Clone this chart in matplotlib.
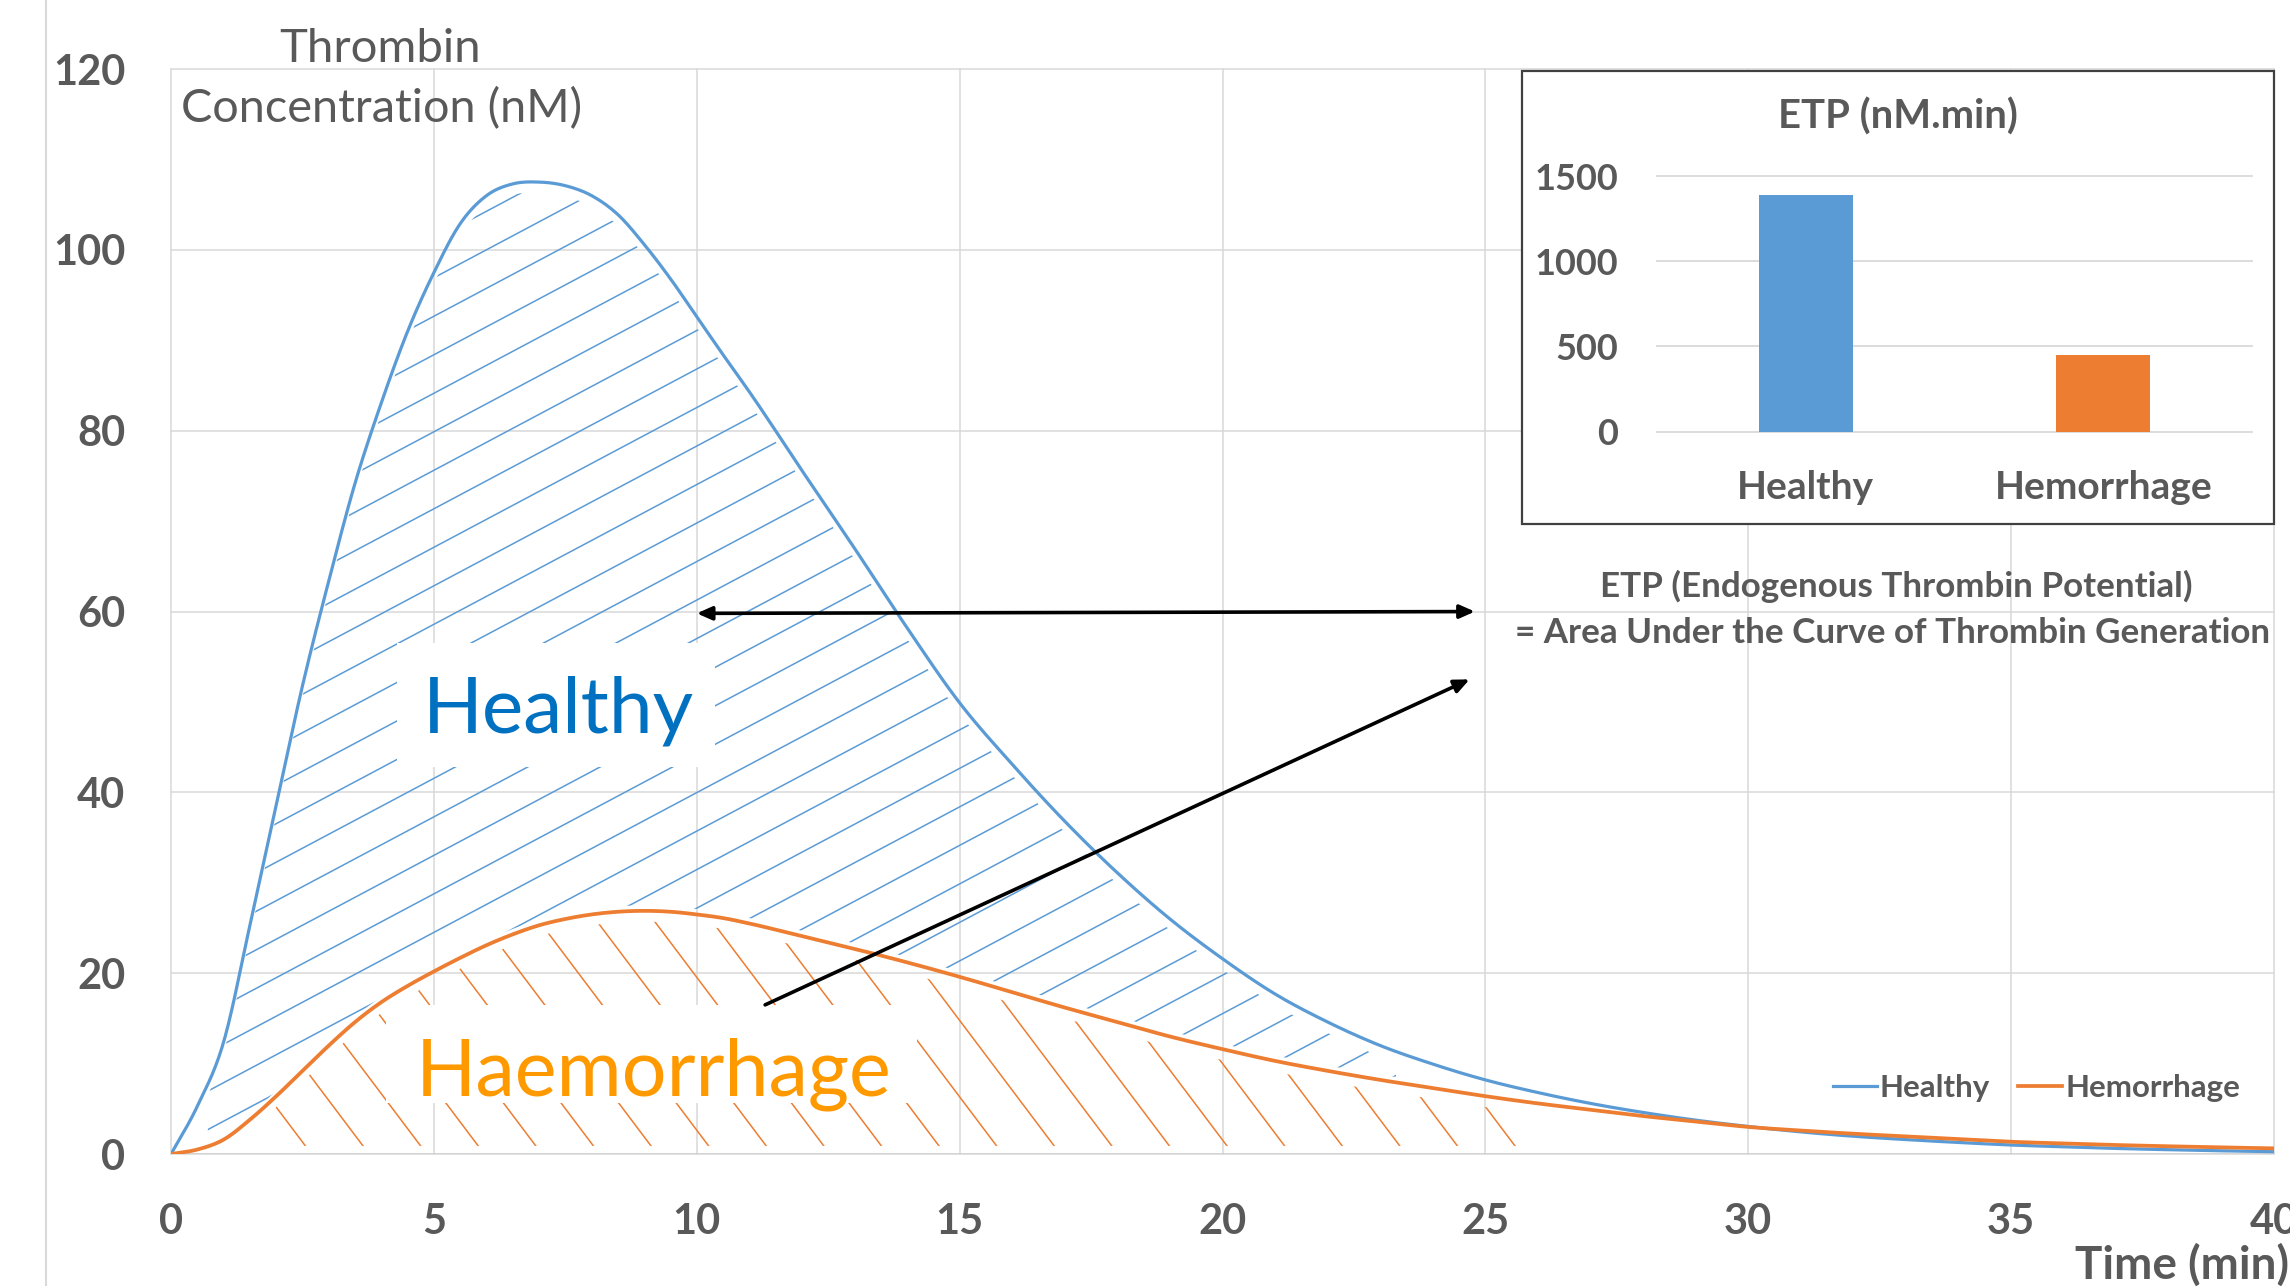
import numpy as np
import matplotlib
matplotlib.use("Agg")
import matplotlib.pyplot as plt
from matplotlib.collections import LineCollection
from matplotlib.patches import Polygon, Rectangle
from matplotlib.lines import Line2D

plt.rcParams['font.family'] = ['Lato', 'DejaVu Sans']

# thrombin generation curves (time in min, nM)
time_min = [0, 0.5, 1, 1.5, 2, 2.5, 3, 3.5, 4, 4.5, 5, 5.5, 6, 6.5, 7, 7.5,
            8, 8.5, 9, 9.5, 10, 10.5, 11, 12, 13, 14, 15, 16, 17, 18, 19, 20,
            21, 22, 23, 24, 25, 26, 27, 28, 29, 30, 31, 32, 33, 34, 35, 36,
            37, 38, 39, 40]
healthy = [0, 5.3, 12.4, 25.3, 38.6, 51.8, 63.4, 74.2, 83.1, 91.0, 97.5,
           102.9, 106.0, 107.3, 107.5, 107.1, 106.0, 103.9, 100.6, 96.8, 92.6,
           88.4, 84.3, 75.6, 67.0, 58.2, 49.9, 43.1, 36.8, 31.1, 26.0, 21.6,
           17.7, 14.6, 12.0, 9.95, 8.2, 6.8, 5.6, 4.6, 3.75, 3.05, 2.45, 1.97,
           1.6, 1.28, 1.0, 0.8, 0.62, 0.48, 0.36, 0.26]
hemorrhage = [0, 0.5, 1.6, 3.8, 6.4, 9.2, 12.0, 14.6, 16.8, 18.6, 20.2,
              21.7, 23.1, 24.3, 25.3, 26.0, 26.5, 26.8, 26.9, 26.8, 26.5,
              26.1, 25.5, 24.1, 22.7, 21.2, 19.6, 17.9, 16.2, 14.6, 13.0, 11.6,
              10.3, 9.2, 8.2, 7.3, 6.4, 5.6, 4.9, 4.2, 3.6, 3.0, 2.6, 2.25,
              1.95, 1.65, 1.36, 1.17, 1.0, 0.86, 0.74, 0.63]

x_ticks = [0, 5, 10, 15, 20, 25, 30, 35, 40]
y_ticks = [0, 20, 40, 60, 80, 100, 120]

# inset bar chart
etp_labels = ['Healthy', 'Hemorrhage']
etp_values = [1390, 447]
etp_ticks = [0, 500, 1000, 1500]

# arrows (data coords of the main chart)
arrow_range = ((10.0, 59.8), (24.8, 60.0))
arrow_area = ((11.3, 16.5), (24.7, 52.5))

GREY = '#595959'
BLUE = '#5B9BD5'
ORANGE = '#ED7D31'


def smooth(x, y, n=16):
    # cubic hermite through the points, like the smoothed line in the source
    x = np.asarray(x, float)
    y = np.asarray(y, float)
    hx = np.diff(x)
    d = np.diff(y) / hx
    m = np.empty_like(y)
    m[1:-1] = (d[:-1] * hx[1:] + d[1:] * hx[:-1]) / (hx[1:] + hx[:-1])
    m[0], m[-1] = d[0], d[-1]
    s = np.linspace(0, 1, n, endpoint=False)
    h00 = 2 * s**3 - 3 * s**2 + 1
    h10 = s**3 - 2 * s**2 + s
    h01 = -2 * s**3 + 3 * s**2
    h11 = s**3 - s**2
    xs, ys = [], []
    for i in range(len(x) - 1):
        xs.append(x[i] + s * hx[i])
        ys.append(h00 * y[i] + h10 * hx[i] * m[i] + h01 * y[i + 1]
                  + h11 * hx[i] * m[i + 1])
    xs.append([x[-1]])
    ys.append([y[-1]])
    return np.concatenate(xs), np.concatenate(ys)


W, H = 2290, 1286
fig = plt.figure(figsize=(W / 100, H / 100), dpi=100)
ax_pos = [0.0747, 0.1026, 0.9183, 0.8437]
ax = fig.add_axes(ax_pos)
ax.set_xlim(0, 40)
ax.set_ylim(0, 120)
ax.set_xticks(x_ticks)
ax.set_yticks(y_ticks)
ax.grid(True, color='#d9d9d9', lw=1.1)
ax.set_axisbelow(True)
for gl in ax.get_xgridlines() + ax.get_ygridlines():
    gl.set_clip_on(False)
for s in ax.spines.values():
    s.set_visible(False)
ax.axhline(0, color='#d0d0d0', lw=1.8, zorder=1)
ax.tick_params(length=0, labelsize=30, labelcolor=GREY)
ax.tick_params(axis='x', pad=35)
ax.tick_params(axis='y', pad=33)
for lab in ax.get_xticklabels() + ax.get_yticklabels():
    lab.set_fontweight('bold')

th, yh = smooth(time_min, healthy)
tm, ym = smooth(time_min, hemorrhage)

# pixels per data unit, used to give the hatching its on-screen angle
sx = W * ax_pos[2] / 40
sy = H * ax_pos[3] / 120


def hatch(poly_x, poly_top, poly_bot, angle, perp_px, color, lw):
    poly = Polygon(np.column_stack([np.r_[poly_x, poly_x[::-1]],
                                    np.r_[poly_top, poly_bot[::-1]]]),
                   closed=True, transform=ax.transData)
    a = np.radians(angle)
    slope = np.tan(a) * sx / sy
    step = perp_px / abs(np.cos(a)) / sy
    segs = [[(-1, c - slope), (41, c + slope * 41)]
            for c in np.arange(-140, 450, step)]
    lc = LineCollection(segs, colors=color, linewidths=lw, zorder=2)
    ax.add_collection(lc, autolim=False)
    lc.set_clip_path(poly)


xb = np.linspace(0.7, 23.3, 400)
hatch(xb, np.interp(xb, th, yh) - 1.2, np.interp(xb, tm, ym) + 0.6,
      28, 34, BLUE, 1.1)
xo = np.linspace(1.8, 26.0, 400)
hatch(xo, np.interp(xo, tm, ym) - 1.2, np.full_like(xo, 0.9),
      -53, 46, ORANGE, 1.1)

ax.plot(th, yh, color=BLUE, lw=2.3, zorder=5, label='Healthy')
ax.plot(tm, ym, color=ORANGE, lw=2.7, zorder=5, label='Hemorrhage')

# white boxes behind the big labels
ax.add_patch(Rectangle((4.29, 42.8), 6.06, 13.7, facecolor='white',
                       edgecolor='none', zorder=4))
ax.add_patch(Rectangle((4.09, 5.6), 10.1, 10.9, facecolor='white',
                       edgecolor='none', zorder=4))
ax.text(7.36, 46.6, 'Healthy', color='#0070C0', fontsize=56.5,
        ha='center', va='baseline', zorder=7)
ax.text(9.17, 6.5, 'Haemorrhage', color='#FF9900', fontsize=57,
        ha='center', va='baseline', zorder=7)

ax.annotate('', xy=arrow_range[0], xytext=arrow_range[1], zorder=6,
            arrowprops=dict(arrowstyle='<|-|>,head_length=0.9,head_width=0.4',
                            lw=2.6, color='black', shrinkA=0, shrinkB=0))
ax.annotate('', xy=arrow_area[1], xytext=arrow_area[0], zorder=6,
            arrowprops=dict(arrowstyle='-|>,head_length=0.9,head_width=0.4',
                            lw=2.6, color='black', shrinkA=0, shrinkB=0))

ax.legend(loc='center left', bbox_to_anchor=(1833 / W, 1 - 1088 / H),
          bbox_transform=fig.transFigure, ncol=2, frameon=False,
          prop=dict(weight='bold', size=22.5), labelcolor=GREY,
          handlelength=1.4, handletextpad=0.1, columnspacing=0.9,
          borderpad=0, borderaxespad=0)

# axis titles
fig.text(380 / W, 1 - 62 / H, 'Thrombin', fontsize=34, color=GREY,
         ha='center', va='baseline')
fig.text(181 / W, 1 - 122 / H, 'Concentration (nM)', fontsize=33.7,
         color=GREY, ha='left', va='baseline')
fig.text(2075 / W, 1 - 1265 / H, 'Time (min)', fontsize=33, color=GREY,
         fontweight='bold', ha='left', va='center')

fig.add_artist(Line2D([46 / W, 46 / W], [0, 1], transform=fig.transFigure,
                      color='#d9d9d9', lw=1.5))

# ETP explanation
fig.text(1896 / W, 1 - 597 / H, 'ETP (Endogenous Thrombin Potential)',
         fontsize=25.2, fontweight='bold', color=GREY, ha='center',
         va='baseline')
fig.text(1893 / W, 1 - 643 / H, '= Area Under the Curve of Thrombin Generation',
         fontsize=25.2, fontweight='bold', color=GREY, ha='center',
         va='baseline')

# inset chart
box = Rectangle((1522 / W, 1 - 524 / H), 752 / W, 453 / H,
                transform=fig.transFigure, facecolor='white',
                edgecolor='#404040', lw=1.6, zorder=2)
fig.add_artist(box)
ax2 = fig.add_axes([1657 / W, 1 - 431.5 / H, 595 / W, 255.5 / H])
ax2.set_zorder(3)
ax2.patch.set_visible(False)
ax2.bar(range(len(etp_values)), etp_values, width=0.316,
        color=[BLUE, ORANGE], zorder=3)
ax2.set_xlim(-0.5, 1.5)
ax2.set_ylim(0, 1500)
ax2.set_yticks(etp_ticks)
ax2.set_xticks(range(len(etp_labels)))
ax2.set_xticklabels(etp_labels)
ax2.yaxis.grid(True, color='#d9d9d9', lw=1.3)
ax2.set_axisbelow(True)
for gl in ax2.get_ygridlines():
    gl.set_clip_on(False)
for s in ax2.spines.values():
    s.set_visible(False)
ax2.tick_params(length=0, labelcolor=GREY)
ax2.tick_params(axis='x', labelsize=28, pad=28)
ax2.tick_params(axis='y', labelsize=26, pad=28)
for lab in ax2.get_xticklabels() + ax2.get_yticklabels():
    lab.set_fontweight('bold')
fig.text(1898 / W, 1 - 128.5 / H, 'ETP (nM.min)', fontsize=28.8,
         fontweight='bold', color=GREY, ha='center', va='baseline',
         zorder=4)

fig.savefig('out.png', dpi=100)
